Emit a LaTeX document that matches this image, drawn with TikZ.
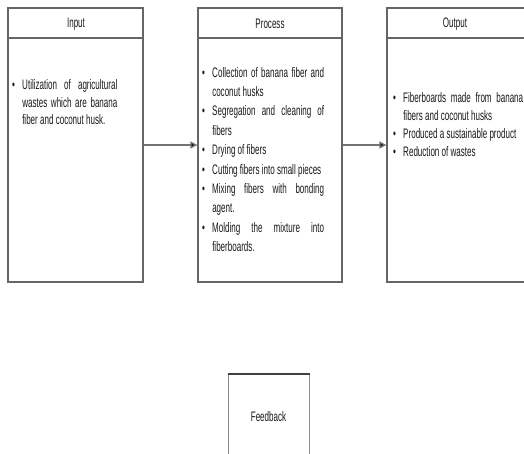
\documentclass[tikz,border=0pt]{standalone}
\usepackage{fontspec}
\usepackage{graphicx}
\setmainfont{Liberation Sans}
\usetikzlibrary{arrows.meta}
\newcommand{\itm}[1]{\par\noindent\hangindent=15pt\hangafter=1\makebox[15pt][l]{\textbullet}#1}
\newcommand{\hd}[1]{\scalebox{0.67}[1.15]{\fontsize{12}{14}\selectfont #1}}
\newcommand{\lst}[3]{\scalebox{0.67}[1.15]{\parbox[t]{#1}{\fontsize{12}{#2}\selectfont\hyphenpenalty=10000\exhyphenpenalty=10000 #3}}}
\begin{document}
\begin{tikzpicture}[x=1pt,y=1pt,
  frame/.style={draw=black!60, line width=1.3pt, inner sep=0pt},
  sepline/.style={draw=black!60, line width=1.8pt},
  flow/.style={draw=black!55, line width=1.3pt, -{Triangle[length=7pt,width=7pt,fill=black!90]}},
  txt/.style={inner sep=0pt, anchor=base west, text=black!90},
  head/.style={inner sep=0pt, text=black!90}]
\clip (0,0) rectangle (524,-453);
\fill[white] (0,0) rectangle (524,-453);
% main boxes
\node[frame, minimum width=135pt, minimum height=274pt] (in) at (75.5,-145) {};
\node[frame, minimum width=144pt, minimum height=274pt] (pr) at (270,-145) {};
\node[frame, minimum width=150pt, minimum height=274pt] (out) at (462,-145) {};
% header separators
\draw[sepline] ([yshift=-31pt]in.north west) -- ([yshift=-31pt]in.north east);
\draw[sepline] ([yshift=-31pt]pr.north west) -- ([yshift=-31pt]pr.north east);
\draw[sepline] ([yshift=-31pt]out.north west) -- ([yshift=-31pt]out.north east);
% headers
\node[head] (inh) at (76,-24) {\hd{Input}};
\node[head] (prh) at (270,-24) {\hd{Process}};
\node[head] (outh) at (455,-24) {\hd{Output}};
% lists
\node[txt] (inl) at (12,-89) {\lst{157pt}{15.65pt}{%
\itm{Utilization of agricultural wastes which are banana fiber and coconut husk.}}};
\node[txt] (prl) at (202,-77) {\lst{182pt}{16.87pt}{%
\itm{Collection of banana fiber and coconut husks}
\itm{Segregation and cleaning of fibers}
\itm{Drying of fibers}
\itm{Cutting fibers into small pieces}
\itm{Mixing fibers with bonding agent.}
\itm{Molding the mixture into fiberboards.}}};
\node[txt] (outl) at (393,-102) {\lst{194pt}{15.9pt}{%
\itm{Fiberboards made from banana fibers and coconut husks}
\itm{Produced a sustainable product}
\itm{Reduction of wastes}}};
% arrows
\draw[flow] (in.east) -- (pr.west);
\draw[flow] (pr.east) -- (out.west);
% feedback
\node[draw=black!45, line width=1pt, minimum width=81pt, minimum height=90pt, inner sep=0pt, text=black!90] (fb) at (268.5,-419) {\raisebox{6pt}{\hd{Feedback}}};
\draw[black!75, line width=2pt] (fb.north west) -- (fb.north east);
\end{tikzpicture}
\end{document}
